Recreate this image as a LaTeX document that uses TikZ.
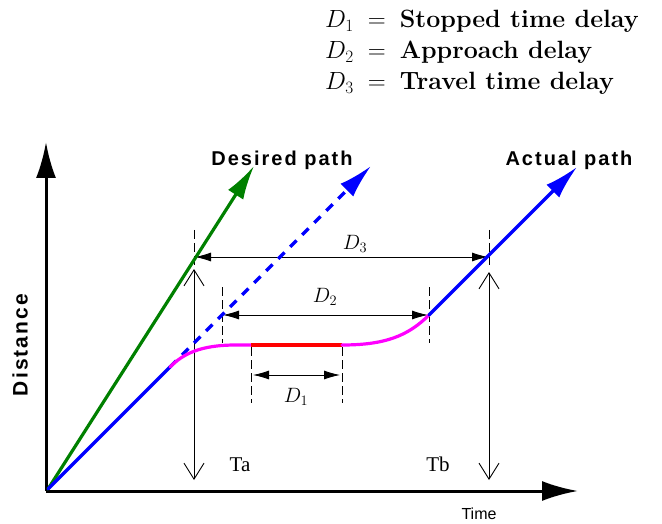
\documentclass[tikz,border=0pt]{standalone}
\usepackage{fontspec}
\newfontfamily\hvb[LetterSpace=10]{Liberation Sans}
\newfontfamily\hv{Liberation Sans}
\newfontfamily\tms{Liberation Serif}
\usetikzlibrary{arrows.meta}
\definecolor{pgreen}{RGB}{0,128,0}
\definecolor{pblue}{RGB}{0,0,255}
\definecolor{pmag}{RGB}{255,0,255}
\definecolor{pred}{RGB}{255,0,0}
\begin{document}
\begin{tikzpicture}[x=1pt,y=-1pt,
  axis/.style={line width=3pt,-{Latex[length=36pt,width=20pt]}},
  path line/.style={line width=3.2pt,line cap=round},
  head/.style={-{Latex[length=34pt,width=18pt]}},
  ext/.style={line width=0.8pt,black,dash pattern=on 9pt off 4pt},
  dim/.style={line width=0.8pt,black,{Latex[length=16pt,width=9pt]}-{Latex[length=16pt,width=9pt]}},
  vtime/.style={line width=0.9pt,black,{Straight Barb[length=16pt,width=20pt]}-{Straight Barb[length=16pt,width=20pt]}},
  legend/.style={anchor=base west,inner sep=0pt,font=\fontsize{25}{29}\selectfont},
  dlabel/.style={inner sep=0pt,font=\fontsize{22}{26}\selectfont},
  pathlabel/.style={inner sep=0pt,font=\fontsize{20}{24}\selectfont\hvb\bfseries},
  tlabel/.style={inner sep=0pt,font=\fontsize{21}{24}\selectfont\tms}]
\useasboundingbox (0,0) rectangle (662,524);

% legend
\node[legend] (l1) at (325,28) {$D_1$\hspace{14pt}$=$\hspace{14pt}\textbf{Stopped time delay}};
\node[legend] (l2) at (325,59) {$D_2$\hspace{14pt}$=$\hspace{14pt}\textbf{Approach delay}};
\node[legend] (l3) at (325,90) {$D_3$\hspace{14pt}$=$\hspace{14pt}\textbf{Travel time delay}};

% coordinates
\coordinate (O) at (46,491);
\coordinate (YT) at (46,142);
\coordinate (XT) at (578,491);
\coordinate (S) at (48,489);
\coordinate (B1) at (170,367);
\coordinate (GT) at (254,166);
\coordinate (DT) at (371,166);
\coordinate (B2) at (429,315);
\coordinate (AT) at (577,167);
\coordinate (R1) at (251,345);
\coordinate (R2) at (342,345);

% axes
\draw[axis] (O) -- (YT);
\draw[axis] (O) -- (XT);

% extension lines
\coordinate (e3at) at (194,230); \coordinate (e3ab) at (194,265);
\coordinate (e3bt) at (489,230); \coordinate (e3bb) at (489,265);
\coordinate (e2at) at (222.5,287); \coordinate (e2ab) at (222.5,343);
\coordinate (e2bt) at (429,287); \coordinate (e2bb) at (429,343);
\coordinate (e1at) at (251,347); \coordinate (e1ab) at (251,403);
\coordinate (e1bt) at (342,347); \coordinate (e1bb) at (342,403);
\draw[ext] (e3at) -- (e3ab);
\draw[ext] (e3bt) -- (e3bb);
\draw[ext] (e2at) -- (e2ab);
\draw[ext] (e2bt) -- (e2bb);
\draw[ext] (e1at) -- (e1ab);
\draw[ext] (e1bt) -- (e1bb);

% dimension lines
\coordinate (d3a) at (195,257); \coordinate (d3b) at (488,257);
\coordinate (d2a) at (223,315); \coordinate (d2b) at (428,315);
\coordinate (d1a) at (253,375); \coordinate (d1b) at (340,375);
\draw[dim] (d3a) -- (d3b);
\draw[dim] (d2a) -- (d2b);
\draw[dim] (d1a) -- (d1b);
\node[dlabel] (D3) at (355,244) {$D_3$};
\node[dlabel] (D2) at (325,297) {$D_2$};
\node[dlabel] (D1) at (296,397) {$D_1$};

% time markers
\coordinate (tat) at (194,269); \coordinate (tab) at (194,480);
\coordinate (tbt) at (489,272); \coordinate (tbb) at (489,480);
\draw[vtime] (tat) -- (tab);
\draw[vtime] (tbt) -- (tbb);
\node[tlabel] (Ta) at (240,465) {Ta};
\node[tlabel] (Tb) at (438,464) {Tb};

% paths
\draw[path line,pgreen,head] (S) -- (GT);
\draw[path line,pblue,head,line cap=butt,dash pattern=on 9pt off 8pt] (B1) -- (DT);
\draw[path line,pblue] (S) -- (B1);
\draw[path line,pmag] (B1) .. controls (183,354) and (200,345) .. (236,345) -- (R1);
\draw[line width=3.6pt,pred] (R1) -- (R2);
\draw[path line,pmag] (R2) .. controls (385,345) and (408,336) .. (B2);
\draw[path line,pblue,head] (B2) -- (AT);

% labels
\node[pathlabel] (desired) at (282,160) {Desired path};
\node[pathlabel] (actual) at (569,160) {Actual path};
\node[pathlabel,rotate=90,font=\fontsize{21}{24}\selectfont\hvb\bfseries] (dist) at (20,345) {Distance};
\node[inner sep=0pt,font=\fontsize{16}{18}\selectfont\hv] (time) at (479,514) {Time};
\end{tikzpicture}
\end{document}
